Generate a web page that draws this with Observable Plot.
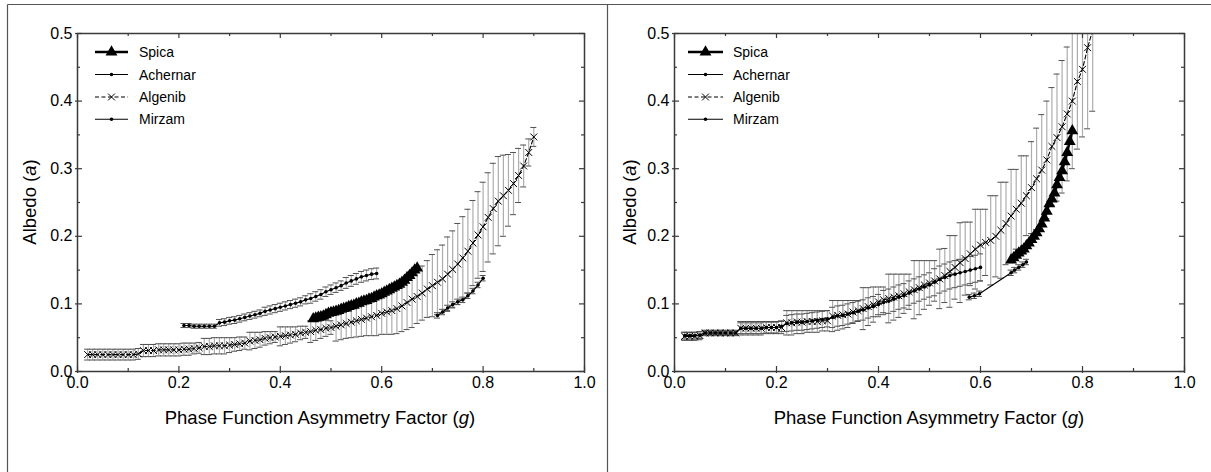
<!DOCTYPE html>
<html>
<head>
<meta charset="utf-8">
<script src="https://cdn.jsdelivr.net/npm/d3@7"></script>
<script src="https://cdn.jsdelivr.net/npm/@observablehq/plot@0.6"></script>
<style>
  html, body { margin: 0; padding: 0; background: #fff; }
  #root { position: relative; width: 1211px; height: 472px; overflow: hidden; font-family: "Liberation Sans", Arial, sans-serif; }
  .panel { position: absolute; top: 0; }
  #overlay { position: absolute; left: 0; top: 0; pointer-events: none; }
</style>
</head>
<body>
<div id="root">
  <div class="panel" id="left" style="left:0px"></div>
  <div class="panel" id="right" style="left:600px"></div>
</div>
<script>
// ---------- axis ticks ----------
const gTicksMajor = [0, 0.2, 0.4, 0.6, 0.8, 1.0];
const gTicksMinor = [0.1, 0.3, 0.5, 0.7, 0.9];
const aTicksMajor = [0, 0.1, 0.2, 0.3, 0.4, 0.5];
const aTicksMinor = [0.05, 0.15, 0.25, 0.35, 0.45];
const seriesNames = ["Spica", "Achernar", "Algenib", "Mirzam"];
const xTitle = "Phase Function Asymmetry Factor";
const xTitleVar = "g";
const yTitle = "Albedo";
const yTitleVar = "a";

// ---------- LEFT PANEL ----------
const spicaL_g = [0.465,0.47,0.475,0.48,0.485,0.49,0.495,0.50,0.505,0.51,0.515,0.52,0.525,0.53,0.535,0.54,0.545,0.55,0.555,0.56,0.565,0.57,0.575,0.58,0.585,0.59,0.595,0.60,0.605,0.61,0.615,0.62,0.625,0.63,0.635,0.64,0.645,0.65,0.655,0.66,0.665,0.67];
const spicaL_a = [0.078,0.079,0.080,0.081,0.082,0.084,0.086,0.087,0.088,0.089,0.090,0.092,0.093,0.094,0.096,0.097,0.098,0.100,0.101,0.103,0.104,0.105,0.107,0.108,0.110,0.112,0.113,0.115,0.117,0.119,0.121,0.123,0.125,0.127,0.129,0.132,0.135,0.139,0.142,0.146,0.150,0.153];

const achernarL_g = [0.71,0.72,0.73,0.74,0.75,0.76,0.77,0.78,0.79,0.80];
const achernarL_a = [0.083,0.088,0.094,0.099,0.103,0.106,0.112,0.119,0.128,0.138];
const achernarL_e = [0.004,0.004,0.004,0.004,0.004,0.004,0.004,0.004,0.004,0.004];

const algenibL_g = [0.02,0.03,0.04,0.05,0.06,0.07,0.08,0.09,0.10,0.11,
  0.12,0.13,0.14,0.15,0.16,0.17,0.18,0.19,0.20,0.21,
  0.22,0.23,0.24,0.25,0.26,0.27,0.28,0.29,0.30,0.31,
  0.32,0.33,0.34,0.35,0.36,0.37,0.38,0.39,0.40,0.41,
  0.42,0.43,0.44,0.45,0.46,0.47,0.48,0.49,0.50,0.51,
  0.52,0.53,0.54,0.55,0.56,0.57,0.58,0.59,0.60,0.61,
  0.62,0.63,0.64,0.65,0.66,0.67,0.68,0.69,0.70,0.71,
  0.72,0.73,0.74,0.75,0.76,0.77,0.78,0.79,0.80,0.81,
  0.82,0.83,0.84,0.85,0.86,0.87,0.88,0.89,0.90];
const algenibL_a = [0.025,0.025,0.025,0.025,0.025,0.025,0.025,0.025,0.025,0.025,
  0.026,0.031,0.031,0.031,0.032,0.032,0.032,0.032,0.032,0.033,
  0.033,0.034,0.035,0.037,0.037,0.038,0.038,0.038,0.039,0.040,
  0.041,0.042,0.045,0.046,0.047,0.049,0.050,0.051,0.052,0.053,
  0.054,0.055,0.057,0.058,0.059,0.061,0.062,0.064,0.065,0.067,
  0.069,0.071,0.073,0.075,0.077,0.079,0.081,0.083,0.086,0.088,
  0.090,0.093,0.097,0.102,0.107,0.111,0.116,0.122,0.127,0.132,
  0.137,0.144,0.151,0.159,0.168,0.178,0.190,0.202,0.214,0.228,
  0.241,0.252,0.260,0.268,0.278,0.290,0.304,0.324,0.347];
const algenibL_e = [0.008,0.008,0.008,0.008,0.008,0.008,0.008,0.008,0.008,0.008,
  0.008,0.009,0.009,0.009,0.009,0.009,0.009,0.009,0.009,0.009,
  0.009,0.008,0.008,0.012,0.012,0.012,0.012,0.012,0.011,0.010,
  0.010,0.009,0.013,0.012,0.011,0.010,0.009,0.008,0.014,0.013,
  0.012,0.011,0.010,0.009,0.016,0.015,0.013,0.012,0.010,0.022,
  0.022,0.022,0.023,0.024,0.025,0.026,0.028,0.030,0.031,0.033,
  0.035,0.037,0.038,0.040,0.042,0.040,0.040,0.042,0.046,0.048,
  0.050,0.055,0.057,0.060,0.061,0.062,0.063,0.064,0.066,0.066,
  0.067,0.066,0.060,0.053,0.046,0.040,0.031,0.020,0.014];

const mirzamL_g = [0.21,0.22,0.23,0.24,0.25,0.26,0.27,0.28,0.29,0.30,
  0.31,0.32,0.33,0.34,0.35,0.36,0.37,0.38,0.39,0.40,
  0.41,0.42,0.43,0.44,0.45,0.46,0.47,0.48,0.49,0.50,
  0.51,0.52,0.53,0.54,0.55,0.56,0.57,0.58,0.59];
const mirzamL_a = [0.068,0.068,0.067,0.067,0.067,0.067,0.067,0.072,0.073,0.075,
  0.076,0.078,0.080,0.082,0.084,0.086,0.089,0.091,0.093,0.095,
  0.097,0.099,0.101,0.103,0.106,0.108,0.111,0.114,0.118,0.121,
  0.124,0.127,0.131,0.134,0.137,0.140,0.142,0.144,0.145];
const mirzamL_e = [0.003,0.003,0.003,0.003,0.003,0.003,0.003,0.005,0.005,0.005,
  0.005,0.005,0.005,0.005,0.005,0.005,0.006,0.006,0.006,0.006,
  0.006,0.006,0.006,0.006,0.006,0.007,0.007,0.007,0.007,0.007,
  0.007,0.007,0.008,0.008,0.008,0.008,0.008,0.008,0.008];

// ---------- RIGHT PANEL ----------
const spicaR_g = [0.66,0.665,0.67,0.675,0.68,0.685,0.69,0.695,0.70,0.705,0.71,0.715,0.72,0.725,0.73,0.735,0.74,0.745,0.75,0.755,0.76,0.765,0.77,0.775,0.78];
const spicaR_a = [0.165,0.168,0.172,0.175,0.178,0.181,0.186,0.190,0.195,0.200,0.205,0.211,0.218,0.227,0.237,0.248,0.255,0.264,0.276,0.287,0.297,0.310,0.324,0.340,0.356];

const achernarR_g = [0.578,0.588,0.598,0.66,0.667,0.675,0.683,0.69];
const achernarR_a = [0.110,0.112,0.115,0.146,0.150,0.154,0.158,0.162];
const achernarR_e = [0.004,0.004,0.004,0.004,0.004,0.004,0.004,0.004];

const algenibR_g = [0.02,0.03,0.04,0.05,0.06,0.07,0.08,0.09,0.10,0.11,
  0.12,0.13,0.14,0.15,0.16,0.17,0.18,0.19,0.20,0.21,
  0.22,0.23,0.24,0.25,0.26,0.27,0.28,0.29,0.30,0.31,
  0.32,0.33,0.34,0.35,0.36,0.37,0.38,0.39,0.40,0.41,
  0.42,0.43,0.44,0.45,0.46,0.47,0.48,0.49,0.50,0.51,
  0.52,0.53,0.54,0.55,0.56,0.57,0.58,0.59,0.60,0.61,
  0.62,0.63,0.64,0.65,0.66,0.67,0.68,0.69,0.70,0.71,
  0.72,0.73,0.74,0.75,0.76,0.77,0.78,0.79,0.80,0.81,
  0.82];
const algenibR_a = [0.052,0.052,0.052,0.053,0.057,0.057,0.057,0.057,0.057,0.057,
  0.057,0.064,0.064,0.064,0.064,0.064,0.065,0.065,0.065,0.065,
  0.072,0.072,0.073,0.073,0.074,0.074,0.074,0.075,0.075,0.082,
  0.083,0.084,0.085,0.088,0.090,0.093,0.096,0.099,0.103,0.106,
  0.108,0.110,0.112,0.115,0.118,0.121,0.124,0.128,0.131,0.134,
  0.137,0.142,0.148,0.154,0.161,0.167,0.174,0.181,0.187,0.191,
  0.194,0.200,0.209,0.219,0.230,0.240,0.249,0.260,0.272,0.285,
  0.298,0.313,0.333,0.346,0.362,0.381,0.400,0.429,0.447,0.479,
  0.505];
const algenibR_e = [0.006,0.006,0.006,0.006,0.004,0.004,0.004,0.004,0.004,0.004,
  0.004,0.010,0.010,0.010,0.010,0.010,0.009,0.009,0.009,0.009,
  0.018,0.018,0.017,0.017,0.016,0.016,0.016,0.015,0.015,0.023,
  0.022,0.021,0.020,0.017,0.015,0.031,0.028,0.026,0.022,0.019,
  0.036,0.034,0.032,0.029,0.026,0.043,0.040,0.036,0.033,0.030,
  0.044,0.040,0.053,0.047,0.059,0.054,0.047,0.059,0.053,0.049,
  0.066,0.060,0.071,0.061,0.069,0.059,0.070,0.059,0.068,0.075,
  0.082,0.087,0.087,0.094,0.098,0.099,0.100,0.100,0.100,0.120,
  0.120];

const mirzamR_g = [0.02,0.03,0.04,0.05,0.06,0.07,0.08,0.09,0.10,0.11,
  0.12,0.13,0.14,0.15,0.16,0.17,0.18,0.19,0.20,0.21,
  0.22,0.23,0.24,0.25,0.26,0.27,0.28,0.29,0.30,0.31,
  0.32,0.33,0.34,0.35,0.36,0.37,0.38,0.39,0.40,0.41,
  0.42,0.43,0.44,0.45,0.46,0.47,0.48,0.49,0.50,0.51,
  0.52,0.53,0.54,0.55,0.56,0.57,0.58,0.59,0.60];
const mirzamR_a = [0.053,0.053,0.053,0.054,0.057,0.057,0.057,0.057,0.057,0.057,
  0.057,0.064,0.064,0.064,0.064,0.064,0.065,0.065,0.065,0.067,
  0.071,0.072,0.073,0.073,0.074,0.075,0.076,0.077,0.078,0.080,
  0.082,0.083,0.085,0.087,0.089,0.091,0.094,0.096,0.099,0.102,
  0.104,0.107,0.110,0.112,0.116,0.119,0.122,0.125,0.128,0.132,
  0.136,0.139,0.142,0.144,0.146,0.148,0.150,0.152,0.154];
const mirzamR_e = [0.005,0.005,0.005,0.005,0.003,0.003,0.003,0.003,0.003,0.003,
  0.003,0.008,0.008,0.008,0.008,0.008,0.008,0.008,0.008,0.008,
  0.012,0.012,0.012,0.012,0.012,0.012,0.012,0.012,0.012,0.015,
  0.015,0.015,0.015,0.015,0.015,0.015,0.015,0.015,0.015,0.018,
  0.018,0.018,0.018,0.018,0.018,0.018,0.018,0.018,0.018,0.020,
  0.020,0.020,0.020,0.020,0.020,0.020,0.020,0.020,0.020];

// ---------- helpers ----------
const rows = (g, a, e) => g.map((v, i) => ({g: v, a: a[i], e: e ? e[i] : 0}));

const W = 600, H = 460, MT = 33, MB = 89, MR = 16;
const FONT = "'Liberation Sans', Arial, Helvetica, sans-serif";

function makePanel(d, ML) {
  const pw = W - ML - MR, ph = H - MT - MB;
  const capHalf = 3 / pw; // cap half width in g units (3px)
  const errs = [...d.algenib, ...d.mirzam, ...d.achernar];
  const black = "#000";
  return Plot.plot({
    width: W, height: H,
    marginLeft: ML, marginRight: MR, marginTop: MT, marginBottom: MB,
    x: {domain: [0, 1]},
    y: {domain: [0, 0.5]},
    style: {fontFamily: FONT, fontSize: "16px", color: "#000", background: "transparent", overflow: "visible"},
    marks: [
      // error bars
      Plot.ruleX(errs, {x: "g", y1: r => r.a - r.e, y2: r => r.a + r.e, stroke: "#adadad", strokeWidth: 1.2, clip: true}),
      Plot.ruleY(errs, {y: r => r.a + r.e, x1: r => r.g - capHalf, x2: r => r.g + capHalf, stroke: "#505050", strokeWidth: 1, clip: true}),
      Plot.ruleY(errs, {y: r => r.a - r.e, x1: r => r.g - capHalf, x2: r => r.g + capHalf, stroke: "#505050", strokeWidth: 1, clip: true}),
      // lines
      Plot.line(d.algenib, {x: "g", y: "a", stroke: black, strokeWidth: 1.1, strokeDasharray: "4,2.5", clip: true}),
      Plot.line(d.mirzam, {x: "g", y: "a", stroke: black, strokeWidth: 1.1, clip: true}),
      Plot.line(d.achernar, {x: "g", y: "a", stroke: black, strokeWidth: 1.1, clip: true}),
      Plot.line(d.spica, {x: "g", y: "a", stroke: black, strokeWidth: 2.4, clip: true}),
      // markers
      Plot.dot(d.algenib, {x: "g", y: "a", symbol: "times", r: 3.2, stroke: black, strokeWidth: 1, clip: true}),
      Plot.dot(d.mirzam, {x: "g", y: "a", r: 1.8, fill: black, stroke: "none", clip: true}),
      Plot.dot(d.achernar, {x: "g", y: "a", r: 1.8, fill: black, stroke: "none", clip: true}),
      Plot.dot(d.spica, {x: "g", y: "a", symbol: "triangle", r: 4.4, fill: black, stroke: "none", clip: true}),
      // frame
      Plot.frame({stroke: "#3a3a3a", strokeWidth: 1.5}),
      // inward ticks: bottom, top, left, right
      Plot.ruleX(gTicksMajor, {x: v => v, insetTop: ph - 5, insetBottom: -2, stroke: "#3a3a3a", strokeWidth: 1.2}),
      Plot.ruleX(gTicksMinor, {x: v => v, insetTop: ph - 3, stroke: "#3a3a3a", strokeWidth: 1.2}),
      Plot.ruleX(gTicksMajor, {x: v => v, insetBottom: ph - 5, stroke: "#3a3a3a", strokeWidth: 1.2}),
      Plot.ruleX(gTicksMinor, {x: v => v, insetBottom: ph - 3, stroke: "#3a3a3a", strokeWidth: 1.2}),
      Plot.ruleY(aTicksMajor, {y: v => v, insetRight: pw - 5, insetLeft: -2, stroke: "#3a3a3a", strokeWidth: 1.2}),
      Plot.ruleY(aTicksMinor, {y: v => v, insetRight: pw - 3, stroke: "#3a3a3a", strokeWidth: 1.2}),
      Plot.ruleY(aTicksMajor, {y: v => v, insetLeft: pw - 5, stroke: "#3a3a3a", strokeWidth: 1.2}),
      Plot.ruleY(aTicksMinor, {y: v => v, insetLeft: pw - 3, stroke: "#3a3a3a", strokeWidth: 1.2}),
      // tick labels
      Plot.axisX(gTicksMajor, {tickSize: 0, tickPadding: 5, tickFormat: ".1f", label: null, fontSize: 16}),
      Plot.axisY(aTicksMajor, {tickSize: 0, tickPadding: 5, tickFormat: ".1f", label: null, fontSize: 16})
    ]
  });
}

const left = {
  spica: rows(spicaL_g, spicaL_a),
  achernar: rows(achernarL_g, achernarL_a, achernarL_e),
  algenib: rows(algenibL_g, algenibL_a, algenibL_e),
  mirzam: rows(mirzamL_g, mirzamL_a, mirzamL_e)
};
const right = {
  spica: rows(spicaR_g, spicaR_a),
  achernar: rows(achernarR_g, achernarR_a, achernarR_e),
  algenib: rows(algenibR_g, algenibR_a, algenibR_e),
  mirzam: rows(mirzamR_g, mirzamR_a, mirzamR_e)
};

document.getElementById("left").appendChild(makePanel(left, 77));
document.getElementById("right").appendChild(makePanel(right, 74));

// ---------- overlay: borders, titles, legends ----------
const svg = d3.select("#root").append("svg").attr("id", "overlay")
  .attr("width", 1211).attr("height", 472)
  .attr("font-family", FONT);

// page borders
svg.append("line").attr("x1", 7.5).attr("x2", 1211).attr("y1", 4.5).attr("y2", 4.5).attr("stroke", "#555").attr("stroke-width", 1.2);
svg.append("line").attr("x1", 7.5).attr("x2", 7.5).attr("y1", 4.5).attr("y2", 472).attr("stroke", "#555").attr("stroke-width", 1.2);
svg.append("line").attr("x1", 607.5).attr("x2", 607.5).attr("y1", 4.5).attr("y2", 472).attr("stroke", "#555").attr("stroke-width", 1.2);

function titles(xCenter, yTitleX) {
  const t = svg.append("text").attr("x", xCenter).attr("y", 424).attr("text-anchor", "middle").attr("font-size", 18.5);
  t.append("tspan").text(xTitle + " (");
  t.append("tspan").attr("font-style", "italic").text(xTitleVar);
  t.append("tspan").text(")");
  const v = svg.append("text").attr("transform", `translate(${yTitleX},202) rotate(-90)`).attr("text-anchor", "middle").attr("font-size", 18.5);
  v.append("tspan").text(yTitle + " (");
  v.append("tspan").attr("font-style", "italic").text(yTitleVar);
  v.append("tspan").text(")");
}
titles(320, 36);
titles(929, 636);

function legend(x0, x1, tx) {
  const ys = [52, 74.5, 97, 119.3];
  seriesNames.forEach((name, i) => {
    const y = ys[i], xm = (x0 + x1) / 2;
    const g = svg.append("g");
    const ln = g.append("line").attr("x1", x0).attr("x2", x1).attr("y1", y).attr("y2", y).attr("stroke", "#000")
      .attr("stroke-width", name === "Spica" ? 2.4 : 1.1);
    if (name === "Algenib") ln.attr("stroke-dasharray", "4,2.5");
    if (name === "Spica") g.append("path").attr("d", d3.symbol(d3.symbolTriangle, Math.PI * 4.4 * 4.4)()).attr("transform", `translate(${xm},${y})`).attr("fill", "#000");
    else if (name === "Algenib") g.append("path").attr("d", d3.symbol(d3.symbolTimes, Math.PI * 3.2 * 3.2)()).attr("transform", `translate(${xm},${y})`).attr("fill", "none").attr("stroke", "#000");
    else g.append("circle").attr("cx", xm).attr("cy", y).attr("r", 1.8).attr("fill", "#000");
    g.append("text").attr("x", tx).attr("y", y + 5).attr("font-size", 14).text(name);
  });
}
legend(95, 128, 139);
legend(688, 723, 733);
</script>
</body>
</html>
